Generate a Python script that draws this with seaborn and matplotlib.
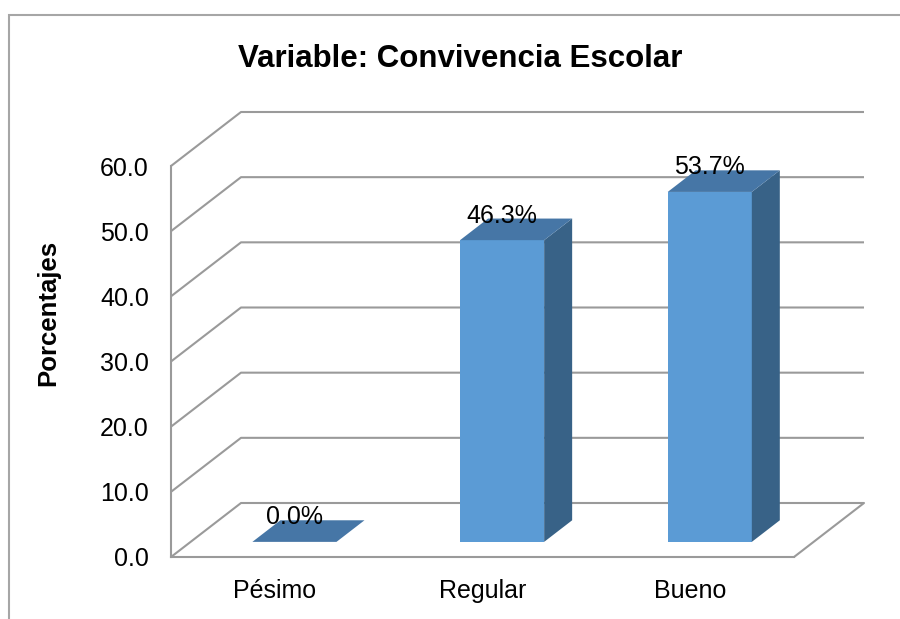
import numpy as np
import matplotlib
matplotlib.use('Agg')
import matplotlib.pyplot as plt
from matplotlib.patches import Polygon, Rectangle
from matplotlib.ticker import FixedLocator, NullFormatter
import seaborn as sns

sns.set_style('white')
plt.rcParams['font.family'] = ['Liberation Sans', 'DejaVu Sans']
plt.rcParams['text.color'] = 'black'
plt.rcParams['axes.labelcolor'] = 'black'

# datos
categorias = ['Pésimo', 'Regular', 'Bueno']
porcentajes = [0.0, 46.3, 53.7]
etiquetas = ['0.0%', '46.3%', '53.7%']
ticks_y = [0, 10, 20, 30, 40, 50, 60]
titulo = 'Variable: Convivencia Escolar'
eje_y = 'Porcentajes'

# estilo
c_frente = '#5B9BD5'
c_techo = '#4676A6'
c_lado = '#386287'
c_grid = '#9A9A9A'

fig = plt.figure(figsize=(9, 6.19), dpi=100)
ax = fig.add_axes([171 / 900, 62 / 619, 623 / 900, 391 / 619])
ax.set_xlim(-0.5, 2.5)
ax.set_ylim(0, 60)

# profundidad 3D (en unidades de datos)
DX = 70 / (623 / 3)
DY = 54 / (391 / 60)
z0, z1 = 0.28, 0.68
ancho = 0.405


def pt(x, y, z):
    return (x + z * DX, y + z * DY)


# paredes: lineas de la grilla
for v in ticks_y:
    a = pt(-0.5, v, 0); b = pt(-0.5, v, 1); c = pt(2.5, v, 1)
    ax.plot([a[0], b[0], c[0]], [a[1], b[1], c[1]], color=c_grid, lw=1.5,
            clip_on=False, zorder=1, solid_capstyle='butt')
a = pt(2.5, 0, 0); b = pt(2.5, 0, 1)
ax.plot([a[0], b[0]], [a[1], b[1]], color=c_grid, lw=1.5, clip_on=False, zorder=1)

# caras frontales con seaborn
sns.barplot(x=categorias, y=porcentajes, ax=ax, width=ancho, color=c_frente,
            saturation=1, zorder=3)
for p in ax.patches:
    p.set_x(p.get_x() + z0 * DX)
    p.set_y(z0 * DY)
    p.set_edgecolor('none')
    p.set_clip_on(False)

# techo y lado
for i, v in enumerate(porcentajes):
    x0, x1 = i - ancho / 2, i + ancho / 2
    techo = [pt(x0, v, z0), pt(x1, v, z0), pt(x1, v, z1), pt(x0, v, z1)]
    lado = [pt(x1, 0, z0), pt(x1, 0, z1), pt(x1, v, z1), pt(x1, v, z0)]
    ax.add_patch(Polygon(lado, closed=True, fc=c_lado, ec='none', zorder=3, clip_on=False))
    ax.add_patch(Polygon(techo, closed=True, fc=c_techo, ec='none', zorder=4, clip_on=False))
    fx, fy = pt(i, v, z0)
    ax.annotate(etiquetas[i], (fx, fy), xytext=(0, 12.6), textcoords='offset points',
                ha='center', va='baseline', fontsize=18, color='black', zorder=5,
                annotation_clip=False)

ax.set_xlim(-0.5, 2.5)
ax.set_ylim(0, 60)

# ejes
for s in ['top', 'right']:
    ax.spines[s].set_visible(False)
for s in ['left', 'bottom']:
    ax.spines[s].set_color(c_grid)
    ax.spines[s].set_linewidth(1.5)

ax.set_yticks(ticks_y)
ax.set_yticklabels([f'{t:.1f}' for t in ticks_y], fontsize=18)
ax.tick_params(axis='y', direction='out', length=5, width=1.2, color=c_grid,
               labelcolor='black', pad=11)

ax.xaxis.set_major_locator(FixedLocator([-0.5, 0.5, 1.5, 2.5]))
ax.xaxis.set_major_formatter(NullFormatter())
ax.xaxis.set_minor_locator(FixedLocator([0, 1, 2]))
ax.set_xticklabels(categorias, minor=True, fontsize=18)
ax.tick_params(axis='x', which='major', direction='out', length=6, width=1.2, color=c_grid)
ax.tick_params(axis='x', which='minor', length=0, pad=16, labelcolor='black')
ax.set_xlabel('')

ax.set_ylabel(eje_y, fontsize=18.5, fontweight='bold', color='black')
ax.yaxis.set_label_coords(-0.178, 0.624)

ax.set_title(titulo, x=0.464, y=1.253, pad=0, fontsize=22.5, fontweight='bold',
             color='black')

# marco del grafico
fig.patches.append(Rectangle((9 / 900, -0.2), 2, 1.2 - 15 / 619, transform=fig.transFigure,
                             fill=False, ec='#A6A6A6', lw=1.5))

fig.savefig('out.png', dpi=100)
